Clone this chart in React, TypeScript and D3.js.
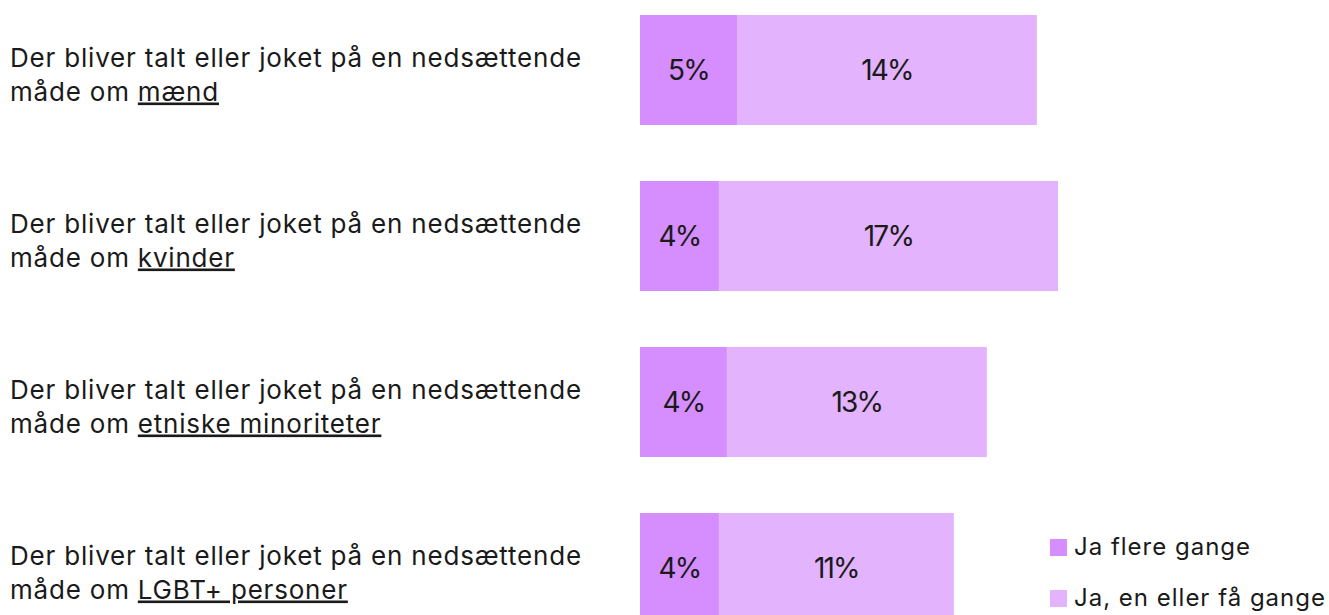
import React, { useEffect, useRef } from "react";
import * as d3 from "d3";

const prefixes = [
  "Der bliver talt eller joket på en nedsættende",
  "Der bliver talt eller joket på en nedsættende",
  "Der bliver talt eller joket på en nedsættende",
  "Der bliver talt eller joket på en nedsættende",
];
const groups = ["mænd", "kvinder", "etniske minoriteter", "LGBT+ personer"];
const manyTimes = [4.73, 3.85, 4.24, 3.85];
const fewTimes = [14.63, 16.54, 12.68, 11.46];
const manyLabels = ["5%", "4%", "4%", "4%"];
const fewLabels = ["14%", "17%", "13%", "11%"];
const seriesNames = ["Ja flere gange", "Ja, en eller få gange"];
const colors = ["#d68efe", "#e3b3fd"];

const FONT = "Inter, 'DejaVu Sans', sans-serif";
const INK = "#1a1a1a";

const App = () => {
  const ref = useRef<SVGSVGElement>(null);

  useEffect(() => {
    const svg = d3.select(ref.current);
    svg.selectAll("*").remove();

    const x = d3.scaleLinear().domain([0, 21]).range([640, 640 + 21 * 20.5]);
    const y = d3
      .scaleBand<string>()
      .domain(groups)
      .range([15, 623])
      .paddingInner(56 / 166)
      .paddingOuter(0);

    const rows = groups.map((g, i) => ({
      group: g,
      prefix: prefixes[i],
      many: manyTimes[i],
      few: fewTimes[i],
      manyLabel: manyLabels[i],
      fewLabel: fewLabels[i],
    }));

    const row = svg
      .append("g")
      .selectAll("g")
      .data(rows)
      .join("g")
      .attr("transform", (d) => `translate(0, ${y(d.group)})`);

    const bw = y.bandwidth();

    // dark segment
    row
      .append("rect")
      .attr("x", x(0))
      .attr("width", (d) => x(d.many) - x(0))
      .attr("height", bw)
      .attr("fill", colors[0]);

    // light segment
    row
      .append("rect")
      .attr("x", (d) => x(d.many))
      .attr("width", (d) => x(d.many + d.few) - x(d.many))
      .attr("height", bw)
      .attr("fill", colors[1]);

    const pct = (sel, fx, fl) =>
      sel
        .append("text")
        .attr("x", fx)
        .attr("y", bw / 2 + 9.5)
        .attr("text-anchor", "middle")
        .attr("font-size", 28)
        .attr("letter-spacing", -1.8)
        .attr("fill", INK)
        .text(fl);

    pct(row, (d) => (x(0) + x(d.many)) / 2, (d) => d.manyLabel);
    pct(row, (d) => (x(d.many) + x(d.many + d.few)) / 2, (d) => d.fewLabel);

    // category labels
    const label = row
      .append("text")
      .attr("font-size", 26)
      .attr("letter-spacing", 0.8)
      .attr("fill", INK);
    label
      .append("tspan")
      .attr("x", 10)
      .attr("y", bw / 2 - 3)
      .text((d) => d.prefix);
    const line2 = label.append("tspan").attr("x", 10).attr("y", bw / 2 + 30.5);
    line2.append("tspan").text("måde om ");
    line2
      .append("tspan")
      .attr("text-decoration", "underline")
      .text((d) => d.group);

    // legend
    const legend = svg
      .append("g")
      .selectAll("g")
      .data(seriesNames)
      .join("g")
      .attr("transform", (d, i) => `translate(1050, ${539 + i * 51})`);
    legend
      .append("rect")
      .attr("width", 17)
      .attr("height", 17)
      .attr("fill", (d, i) => colors[i]);
    legend
      .append("text")
      .attr("x", 24)
      .attr("y", 16)
      .attr("font-size", 24)
      .attr("letter-spacing", 1)
      .attr("fill", INK)
      .text((d) => d);

    svg.selectAll("text").attr("font-family", FONT);
  }, []);

  return (
    <svg
      ref={ref}
      width={1329}
      height={615}
      style={{ position: "absolute", left: 0, top: 0, background: "#fff" }}
    />
  );
};

export default App;
